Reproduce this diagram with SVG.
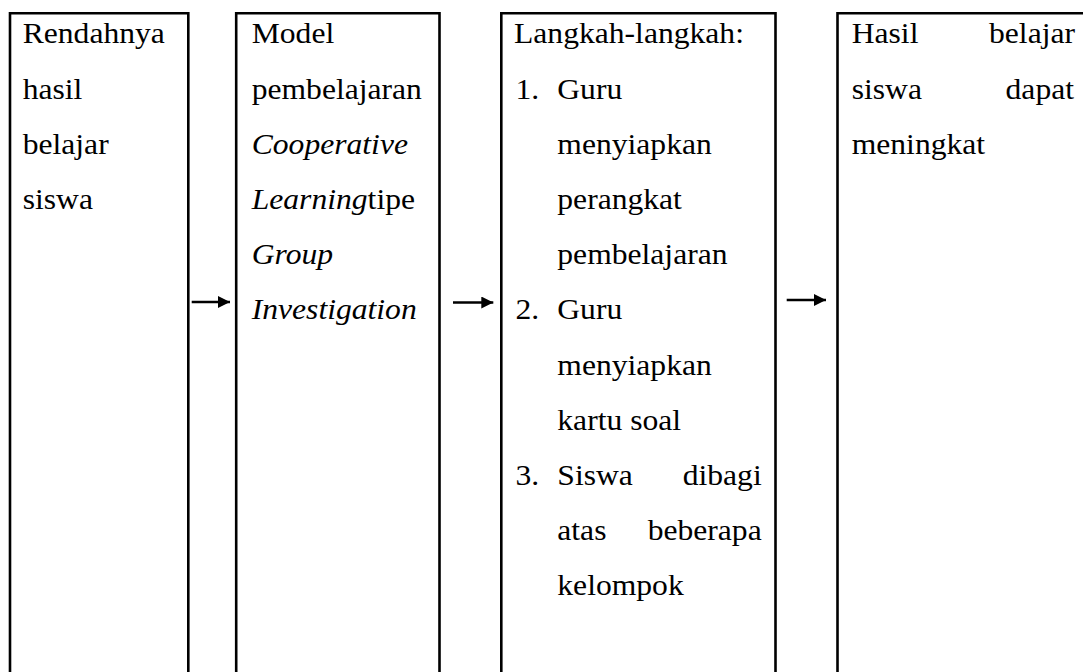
<svg xmlns="http://www.w3.org/2000/svg" width="1083" height="672" viewBox="0 0 1083 672">
<style>
.box{fill:none;stroke:#000;stroke-width:2.6}
.t{font-family:"Liberation Serif","Times New Roman",serif;font-size:29px;fill:#000}
.i{font-style:italic}
.e{text-anchor:end}
.c{stroke:#000;stroke-width:2.6;fill:none}
</style>
<defs>
<marker id="ah" markerUnits="userSpaceOnUse" markerWidth="13" markerHeight="13" refX="12" refY="6" orient="auto">
<path d="M0,0 L12,6 L0,12 z" fill="#000"/>
</marker>
</defs>
<rect x="0" y="0" width="1083" height="672" fill="#fff"/>
<g id="node1">
<path class="box" d="M10,700 V13.3 H188.3 V700"/>
<text class="t" transform="translate(22.7 43.3) scale(1.09 1)">Rendahnya</text>
<text class="t" transform="translate(22.7 98.5) scale(1.09 1)">hasil</text>
<text class="t" transform="translate(22.7 153.7) scale(1.09 1)">belajar</text>
<text class="t" transform="translate(22.7 208.9) scale(1.09 1)">siswa</text>
</g>
<g id="node2">
<path class="box" d="M236.2,700 V13.3 H439.5 V700"/>
<text class="t" transform="translate(251.7 43.3) scale(1.09 1)">Model</text>
<text class="t" transform="translate(251.7 98.5) scale(1.09 1)">pembelajaran</text>
<text class="t i" transform="translate(251.7 153.7) scale(1.09 1)">Cooperative</text>
<text class="t" transform="translate(251.7 208.9) scale(1.09 1)"><tspan class="i">Learning</tspan>tipe</text>
<text class="t i" transform="translate(251.7 264.1) scale(1.09 1)">Group</text>
<text class="t i" transform="translate(251.7 319.3) scale(1.09 1)">Investigation</text>
</g>
<g id="node3">
<path class="box" d="M501.3,700 V13.3 H775.5 V700"/>
<text class="t" transform="translate(514 43.3) scale(1.09 1)">Langkah-langkah:</text>
<text class="t" transform="translate(515.5 98.5) scale(1.09 1)">1.</text>
<text class="t" transform="translate(557.3 98.5) scale(1.09 1)">Guru</text>
<text class="t" transform="translate(557.3 153.7) scale(1.09 1)">menyiapkan</text>
<text class="t" transform="translate(557.3 208.9) scale(1.09 1)">perangkat</text>
<text class="t" transform="translate(557.3 264.1) scale(1.09 1)">pembelajaran</text>
<text class="t" transform="translate(515.5 319.3) scale(1.09 1)">2.</text>
<text class="t" transform="translate(557.3 319.3) scale(1.09 1)">Guru</text>
<text class="t" transform="translate(557.3 374.5) scale(1.09 1)">menyiapkan</text>
<text class="t" transform="translate(557.3 429.7) scale(1.09 1)">kartu soal</text>
<text class="t" transform="translate(515.5 484.9) scale(1.09 1)">3.</text>
<text class="t" transform="translate(557.3 484.9) scale(1.09 1)">Siswa</text>
<text class="t e" transform="translate(761.7 484.9) scale(1.09 1)">dibagi</text>
<text class="t" transform="translate(557.3 540.1) scale(1.09 1)">atas</text>
<text class="t e" transform="translate(761.7 540.1) scale(1.09 1)">beberapa</text>
<text class="t" transform="translate(557.3 595.3) scale(1.09 1)">kelompok</text>
</g>
<g id="node4">
<path class="box" d="M837.5,700 V13.3 H1100"/>
<text class="t" transform="translate(851.7 43.3) scale(1.09 1)">Hasil</text>
<text class="t e" transform="translate(1075 43.3) scale(1.09 1)">belajar</text>
<text class="t" transform="translate(851.7 98.5) scale(1.09 1)">siswa</text>
<text class="t e" transform="translate(1074 98.5) scale(1.09 1)">dapat</text>
<text class="t" transform="translate(851.7 153.7) scale(1.09 1)">meningkat</text>
</g>
<g id="connectors">
<line class="c" x1="191.7" y1="302" x2="230" y2="302" marker-end="url(#ah)"/>
<line class="c" x1="453" y1="302.5" x2="493.3" y2="302.5" marker-end="url(#ah)"/>
<line class="c" x1="786.7" y1="300" x2="826" y2="300" marker-end="url(#ah)"/>
</g>
</svg>
